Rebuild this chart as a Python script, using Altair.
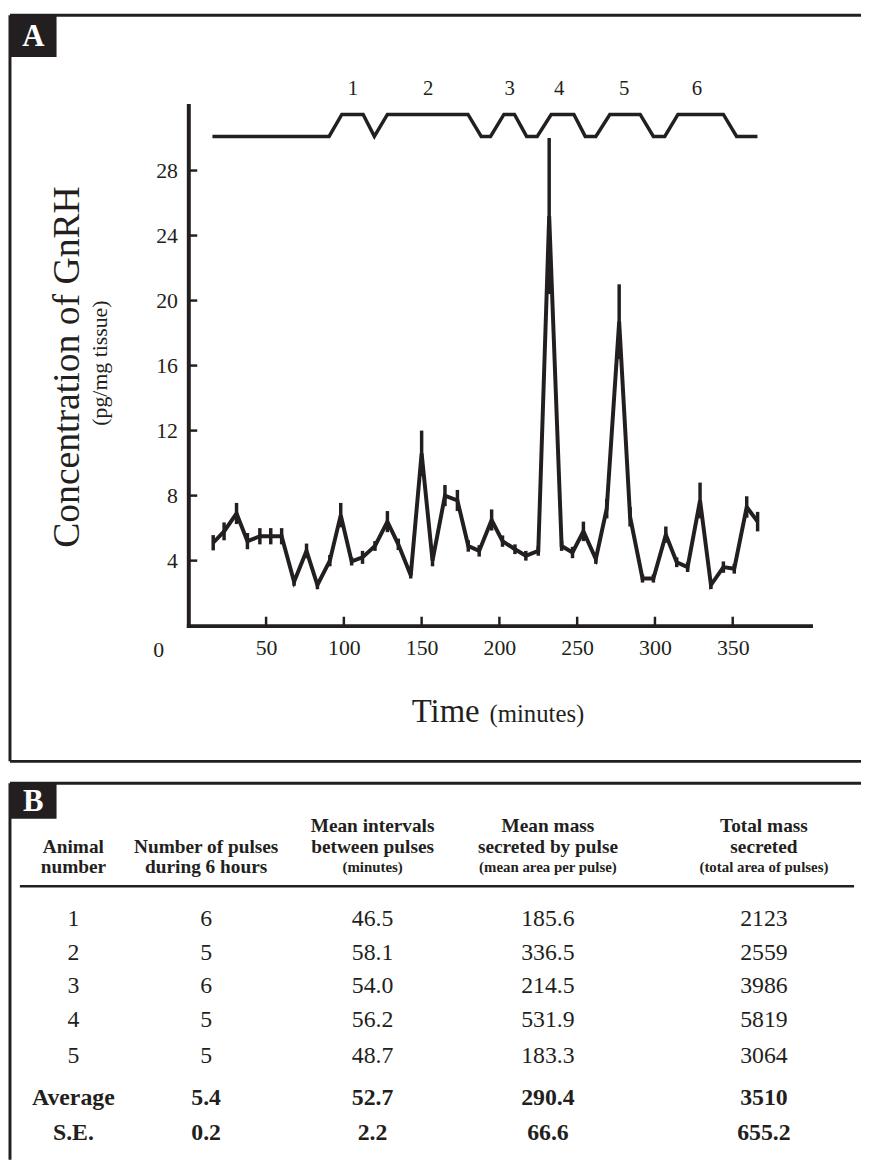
import altair as alt
import pandas as pd

INK = "#231f20"
FONT = "Liberation Serif"

# ---------------- Panel A data ----------------
time_min = [16, 23, 31, 38, 46, 53, 60, 68, 76, 83, 91, 98, 105, 112, 120, 128,
            135, 143, 150, 157, 165, 173, 180, 187, 195, 202, 210, 217, 225, 232,
            240, 247, 254, 262, 269, 277, 284, 292, 299, 307, 314, 321, 329, 336,
            344, 351, 359, 366]
gnrh = [5.1, 5.8, 6.9, 5.2, 5.5, 5.5, 5.5, 2.7, 4.6, 2.5, 4.0, 6.8, 3.95, 4.2,
        4.9, 6.4, 5.0, 3.1, 10.6, 4.0, 8.0, 7.7, 4.9, 4.6, 6.5, 5.2, 4.7, 4.3,
        4.6, 25.2, 4.9, 4.5, 5.8, 4.1, 7.2, 18.7, 6.7, 2.9, 2.9, 5.6, 3.9, 3.6,
        7.7, 2.5, 3.6, 3.5, 7.3, 6.4]
gnrh_se = [0.47, 0.55, 0.65, 0.5, 0.5, 0.5, 0.5, 0.25, 0.45, 0.25, 0.35, 0.75,
           0.25, 0.4, 0.3, 0.65, 0.35, 0.2, 1.4, 0.35, 0.65, 0.65, 0.35, 0.35,
           0.65, 0.35, 0.3, 0.3, 0.3, 4.8, 0.3, 0.35, 0.6, 0.3, 0.6, 2.3, 0.6,
           0.25, 0.25, 0.5, 0.3, 0.3, 1.1, 0.25, 0.35, 0.3, 0.66, 0.6]

pulse_time = [15.5, 90.5, 98.7, 112.4, 119.6, 128, 179.8, 188.3, 194.3, 202.9,
              209.7, 217.5, 224.3, 233.3, 247.9, 255.2, 262, 271, 290.5, 299,
              306.3, 314.8, 344, 352.5, 365.9]
pulse_on = [0, 0, 1, 1, 0, 1, 1, 0, 0, 1, 1, 0, 0, 1, 1, 0, 0, 1, 1, 0, 0, 1, 1, 0, 0]
pulse_label_time = [105.8, 154.3, 206.6, 238.5, 280.2, 327]
pulse_labels = ["1", "2", "3", "4", "5", "6"]

x_ticks = [50, 100, 150, 200, 250, 300, 350]
y_ticks = [4, 8, 12, 16, 20, 24, 28]

# ---------------- Panel B data ----------------
animal = ["1", "2", "3", "4", "5", "Average", "S.E."]
pulses = ["6", "5", "6", "5", "5", "5.4", "0.2"]
intervals = ["46.5", "58.1", "54.0", "56.2", "48.7", "52.7", "2.2"]
mean_mass = ["185.6", "336.5", "214.5", "531.9", "183.3", "290.4", "66.6"]
total_mass = ["2123", "2559", "3986", "5819", "3064", "3510", "655.2"]
bold_rows = ["Average", "S.E."]

header_main = [
    ["", "Animal", "number"],
    ["", "Number of pulses", "during 6 hours"],
    ["Mean intervals", "between pulses", ""],
    ["Mean mass", "secreted by pulse", ""],
    ["Total mass", "secreted", ""],
]
header_small = ["", "", "(minutes)", "(mean area per pulse)", "(total area of pulses)"]

# ---------------- frames ----------------
df = pd.DataFrame({"t": time_min, "v": gnrh, "se": gnrh_se})
df["lo"] = df["v"] - df["se"]
df["hi"] = df["v"] + df["se"]
pulse_df = pd.DataFrame({"t": pulse_time, "on": pulse_on})
plab_df = pd.DataFrame({"t": pulse_label_time, "lab": pulse_labels})
xt_df = pd.DataFrame({"t": x_ticks})
yt_df = pd.DataFrame({"v": y_ticks})
one = pd.DataFrame({"k": [0]})

W, H = 628, 525
xs = alt.Scale(domain=[0, 400], nice=False, zero=False)
ys = alt.Scale(domain=[0, 32], nice=False, zero=False)

line = alt.Chart(df).mark_line(color=INK, strokeWidth=4).encode(
    x=alt.X("t:Q", scale=xs,
            axis=alt.Axis(values=x_ticks, title=None, grid=False, ticks=False, tickSize=0,
                          labelFontSize=22, labelFont=FONT, labelColor=INK, labelPadding=12,
                          domainWidth=4, domainColor=INK, domainCap="square")),
    y=alt.Y("v:Q", scale=ys,
            axis=alt.Axis(values=y_ticks, title=None, grid=False, ticks=False, tickSize=0,
                          labelFontSize=22, labelFont=FONT, labelColor=INK, labelPadding=11,
                          domainWidth=4, domainColor=INK, domainCap="square")),
)
err = alt.Chart(df).mark_rule(color=INK, strokeWidth=3.5).encode(
    x=alt.X("t:Q", scale=xs), y=alt.Y("lo:Q", scale=ys), y2="hi:Q")

pulse = alt.Chart(pulse_df).transform_calculate(pv="30.1 + 1.35*datum.on").mark_line(
    color=INK, strokeWidth=3.5).encode(x=alt.X("t:Q", scale=xs), y=alt.Y("pv:Q", scale=ys))
plab = alt.Chart(plab_df).mark_text(font=FONT, fontSize=21, color=INK, baseline="middle").encode(
    x=alt.X("t:Q", scale=xs), y=alt.value(-17), text="lab:N")

xtick = alt.Chart(xt_df).mark_rule(color=INK, strokeWidth=2.5).encode(
    x=alt.X("t:Q", scale=xs), y=alt.value(H), y2=alt.value(H - 9))
ytick = alt.Chart(yt_df).mark_rule(color=INK, strokeWidth=2.5).encode(
    y=alt.Y("v:Q", scale=ys), x=alt.value(0), x2=alt.value(9))


def hrule(x1, x2, y, w=3):
    return alt.Chart(one).mark_rule(color=INK, strokeWidth=w).encode(
        x=alt.value(x1), x2=alt.value(x2), y=alt.value(y))


def vrule(x, y1, y2, w=3):
    return alt.Chart(one).mark_rule(color=INK, strokeWidth=w).encode(
        x=alt.value(x), y=alt.value(y1), y2=alt.value(y2))


def label(txt, x, y, size, **kw):
    return alt.Chart(one).mark_text(text=txt, font=FONT, fontSize=size, color=INK, **kw).encode(
        x=alt.value(x), y=alt.value(y))


def letter_box(letter, x0, y0, w, h):
    box = alt.Chart(one).mark_rect(color=INK).encode(
        x=alt.value(x0), x2=alt.value(x0 + w), y=alt.value(y0), y2=alt.value(y0 + h))
    txt = alt.Chart(one).mark_text(text=letter, font=FONT, fontSize=31, fontWeight="bold",
                                   color="white", baseline="middle").encode(
        x=alt.value(x0 + w / 2), y=alt.value(y0 + h / 2 + 1))
    return box, txt


a_box, a_txt = letter_box("A", -180, -91, 47, 42)

panelA = alt.layer(
    hrule(-180, 679, -91), vrule(-180, -91, 662), hrule(-180, 679, 662),
    a_box, a_txt,
    pulse, plab, err, line, xtick, ytick,
    label("Concentration of GnRH", -110, 264, 38, angle=270, align="center", baseline="alphabetic"),
    label("(pg/mg tissue)", -82, 260, 22, angle=270, align="center", baseline="alphabetic"),
    label("Time", 294, 622, 33, align="right", baseline="alphabetic"),
    label("(minutes)", 304, 622, 25, align="left", baseline="alphabetic"),
    label("0", -30, 550, 22, align="center", baseline="middle"),
).properties(width=W, height=H)

# ---------------- Panel B ----------------
cols = [animal, pulses, intervals, mean_mass, total_mass]
rows = []
for c, colvals in enumerate(cols):
    for r, val in enumerate(colvals):
        rows.append({"col": c, "line": r, "txt": val,
                     "bold": animal[r] in bold_rows})
body = pd.DataFrame(rows)
hrows = []
for c, lines in enumerate(header_main):
    for i, val in enumerate(lines):
        if val:
            hrows.append({"col": c, "line": i - 3, "txt": val})
head = pd.DataFrame(hrows)
srows = [{"col": c, "line": -1, "txt": s} for c, s in enumerate(header_small) if s]
small = pd.DataFrame(srows)

# panel B shares panel A's left plot edge (page x ~190); its frame starts 180px to the left
BH = 380
tx = alt.X("col:Q", scale=alt.Scale(domain=[0, 1, 2, 3, 4],
                                    range=[-116, 18, 186, 363, 581],
                                    nice=False, zero=False), axis=None)
ty = alt.Y("line:Q", scale=alt.Scale(domain=[-3, -2, -1, 0, 1, 2, 3, 4, 5, 6],
                                     range=[43, 64, 85, 137, 171, 205, 239, 275, 318, 353],
                                     nice=False, zero=False), axis=None)

body_reg = alt.Chart(body).transform_filter("!datum.bold").mark_text(
    font=FONT, fontSize=24, color=INK, baseline="middle").encode(x=tx, y=ty, text="txt:N")
body_bold = alt.Chart(body).transform_filter("datum.bold").mark_text(
    font=FONT, fontSize=24, fontWeight="bold", color=INK, baseline="middle").encode(
    x=tx, y=ty, text="txt:N")
head_t = alt.Chart(head).mark_text(font=FONT, fontSize=19.5, fontWeight="bold", color=INK,
                                   baseline="middle").encode(x=tx, y=ty, text="txt:N")
small_t = alt.Chart(small).mark_text(font=FONT, fontSize=15, fontWeight="bold", color=INK,
                                     baseline="middle").encode(x=tx, y=ty, text="txt:N")

b_box, b_txt = letter_box("B", -180, 0, 47, 36)

panelB = alt.layer(
    hrule(-180, 679, 0), vrule(-180, 0, BH), hrule(-170, 672, 104, 2.5),
    b_box, b_txt, head_t, small_t, body_reg, body_bold,
).properties(width=W, height=BH)

chart = alt.vconcat(panelA, panelB, spacing=18).properties(
    padding=0, background="white"
).configure(font=FONT, view=alt.ViewConfig(stroke=None))

chart.save("out.html", embed_options={"renderer": "svg", "actions": False})
